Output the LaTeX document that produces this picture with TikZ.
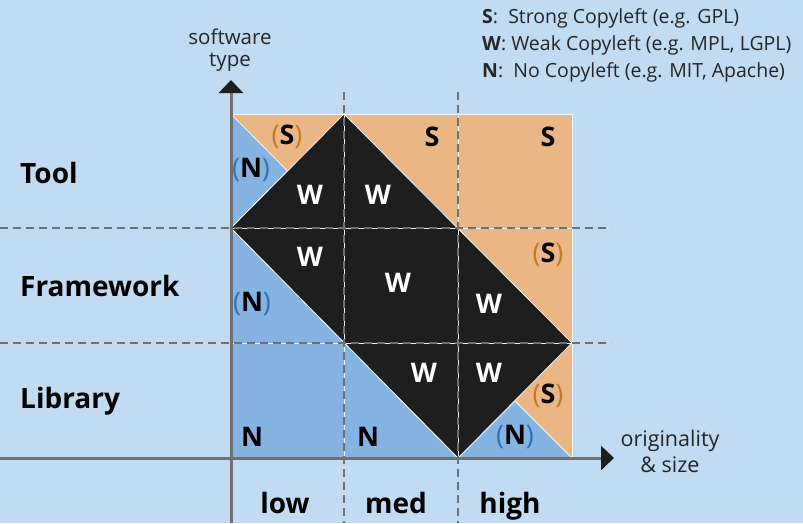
\documentclass[tikz,border=0pt]{standalone}
\usepackage{fontspec}
\setmainfont{Open Sans}
\usetikzlibrary{arrows.meta}
\definecolor{bgc}{RGB}{193,219,242}
\definecolor{bluef}{RGB}{133,180,226}
\definecolor{orangef}{RGB}{234,183,132}
\definecolor{blackf}{RGB}{30,30,30}
\definecolor{grayl}{RGB}{112,112,112}
\definecolor{parb}{RGB}{46,117,182}
\definecolor{paro}{RGB}{197,120,40}
\tikzset{
  region/.style={draw=white!80!bgc, line width=0.8pt, line join=round},
  gridl/.style={draw=grayl, line width=2.8pt, dash pattern=on 8pt off 5pt},
  axisl/.style={draw=grayl, line width=3pt, -{Triangle[length=13pt,width=24pt,color=blackf]}},
  rowlab/.style={font=\fontsize{28}{30}\selectfont\bfseries, anchor=base west, inner sep=0pt},
  collab/.style={font=\fontsize{28}{30}\selectfont\bfseries, anchor=base, inner sep=0pt},
  wlab/.style={font=\fontsize{27}{29}\selectfont\bfseries, text=white, inner sep=0pt},
  klab/.style={font=\fontsize{27}{29}\selectfont\bfseries, text=black, inner sep=0pt},
  axlab/.style={font=\fontsize{21.5}{26}\selectfont, align=center, text=black!85, inner sep=0pt},
  leg/.style={font=\fontsize{19.5}{21}\selectfont, anchor=west, inner sep=0pt, text=black!85},
}
\newcommand{\ps}{{\mdseries\color{paro}(}S{\mdseries\color{paro})}}
\newcommand{\pn}{{\mdseries\color{parb}(}N{\mdseries\color{parb})}}
\begin{document}
\begin{tikzpicture}[x=1pt,y=-1pt]
\useasboundingbox (0,0) rectangle (803,523);
\fill[bgc] (0,0) rectangle (803,523);
% regions
\filldraw[region, fill=orangef] (231,114) -- (572,114) -- (572,458) -- (231,458) -- cycle;
\filldraw[region, fill=bluef] (231,114) -- (287.5,171) -- (231,228) -- cycle;
\filldraw[region, fill=bluef] (231,228) -- (458,458) -- (231,458) -- cycle;
\filldraw[region, fill=bluef] (458,458) -- (515,401) -- (572,458) -- cycle;
\filldraw[region, fill=blackf] (231,228) -- (344,114) -- (572,343) -- (458,458) -- cycle;
% thin light cell lines
\draw[white!70!bgc, line width=0.6pt] (231,228) -- (572,228) (231,343) -- (572,343) (344,114) -- (344,458) (458,114) -- (458,458);
% dashed grid
\coordinate (v1t) at (344,92); \coordinate (v1b) at (344,523);
\coordinate (v2t) at (458,92); \coordinate (v2b) at (458,523);
\coordinate (h1l) at (0,228); \coordinate (h1r) at (611,228);
\coordinate (h2l) at (0,343); \coordinate (h2r) at (611,343);
\draw[gridl] (v1t) -- (v1b);
\draw[gridl] (v2t) -- (v2b);
\draw[gridl] (h1l) -- (h1r);
\draw[gridl] (h2l) -- (h2r);
% axes
\coordinate (yb) at (231,523); \coordinate (yt) at (231,80);
\coordinate (xl) at (0,458); \coordinate (xr) at (614,458);
\draw[axisl] (yb) -- (yt);
\draw[axisl] (xl) -- (xr);
% cell labels
\node[klab] (s1) at (287,137) {\ps};
\node[klab] (s2) at (432,137) {S};
\node[klab] (s3) at (548,137) {S};
\node[klab] (n1) at (251,170) {\pn};
\node[wlab] (w1) at (310,195) {W};
\node[wlab] (w2) at (378,195) {W};
\node[wlab] (w3) at (310,257) {W};
\node[wlab] (w4) at (398,283) {W};
\node[wlab] (w5) at (489,304) {W};
\node[wlab] (w6) at (424,373) {W};
\node[wlab] (w7) at (489,373) {W};
\node[klab] (s4) at (548,255) {\ps};
\node[klab] (s5) at (548,396) {\ps};
\node[klab] (n2) at (252,304) {\pn};
\node[klab] (n3) at (515,437) {\pn};
\node[klab] (n4) at (252,437) {N};
\node[klab] (n5) at (368,437) {N};
% row labels
\node[rowlab] (tool) at (20,183) {Tool};
\node[rowlab] (fw) at (20,296) {Framework};
\node[rowlab] (lib) at (20,408) {Library};
% column labels
\node[collab] (low) at (285,513) {low};
\node[collab] (med) at (396,513) {med};
\node[collab] (high) at (510,513) {high};
% axis labels
\node[axlab, font=\fontsize{20.5}{22}\selectfont] (ylab) at (230,50) {software\\type};
\node[axlab] (xlab) at (670,451) {originality\\\& size};
% legend
\node[leg] (lg1) at (482,18) {\textbf{S}:\ \ Strong Copyleft (e.g. GPL)};
\node[leg] (lg2) at (482,45) {\textbf{W}: Weak Copyleft (e.g. MPL, LGPL)};
\node[leg] (lg3) at (482,72) {\textbf{N}:\ \ No Copyleft (e.g. MIT, Apache)};
\end{tikzpicture}
\end{document}
